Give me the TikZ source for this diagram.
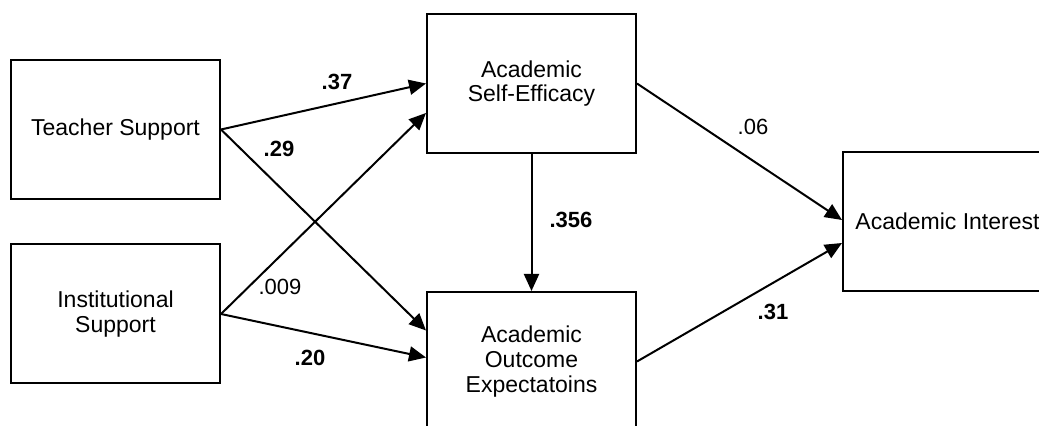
\documentclass[tikz,border=0pt]{standalone}
\usepackage{fontspec}
\setmainfont{Liberation Sans}
\usetikzlibrary{arrows.meta}
\tikzset{
  var/.style={draw, line width=1pt, minimum width=104.5pt, minimum height=69.5pt,
    align=center, inner sep=0pt, font=\fontsize{11.5}{12.3}\selectfont},
  link/.style={line width=1pt, -{Triangle[length=8.5pt,width=7.5pt]}},
  coef/.style={font=\fontsize{11}{12}\selectfont\bfseries},
  coefn/.style={font=\fontsize{11}{12}\selectfont}
}
\begin{document}
\begin{tikzpicture}[x=0.5pt, y=-0.5pt]
	\path[use as bounding box, clip] (0,0) rectangle (1039,426);
	\node[var] (ts) at (115.5,129.5) {Teacher Support};
	\node[var] (is) at (115.5,314) {Institutional\\Support};
	\node[var] (se) at (531.5,83.5) {Academic\\Self-Efficacy};
	\node[var] (oe) at (531.5,361.5) {Academic\\Outcome\\Expectatoins};
	\node[var] (ai) at (947.5,221.5) {Academic Interest};
	% paths
	\draw[link] (ts.east) -- (se.west);
	\draw[link] (ts.east) -- ([yshift=15.5pt]oe.west);
	\draw[link] (is.east) -- ([yshift=-14.75pt]se.west);
	\draw[link] (is.east) -- ([yshift=2pt]oe.west);
	\draw[link] (se.south) -- (oe.north);
	\draw[link] (se.east) -- ([yshift=0.75pt]ai.west);
	\draw[link] (oe.east) -- ([yshift=-10.75pt]ai.west);
	% coefficients
	\node[coef] (c37) at (337,82) {.37};
	\node[coef] (c29) at (279,149) {.29};
	\node[coefn] (c009) at (280,287) {.009};
	\node[coef] (c20) at (310,358) {.20};
	\node[coef] (c356) at (571,220) {.356};
	\node[coefn] (c06) at (753,127) {.06};
	\node[coef] (c31) at (773,312) {.31};
\end{tikzpicture}
\end{document}
